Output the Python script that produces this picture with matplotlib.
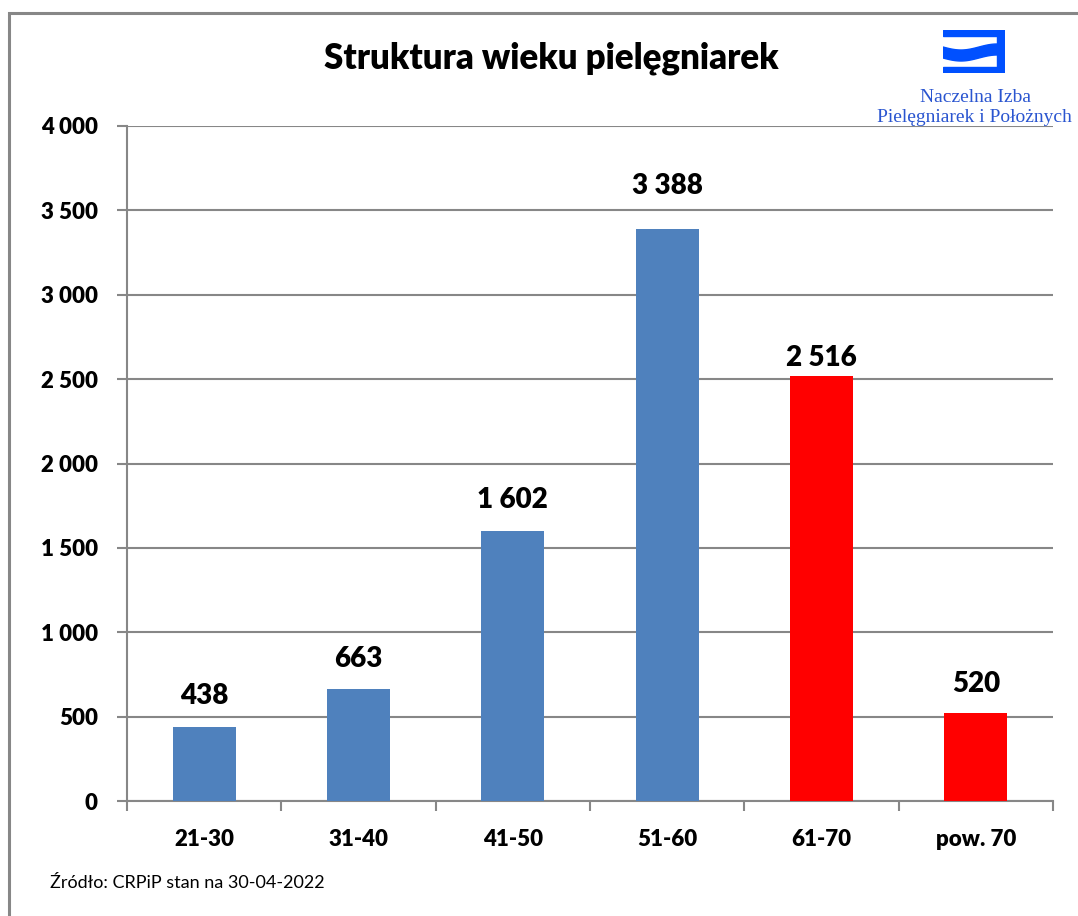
import numpy as np
import matplotlib.pyplot as plt
from matplotlib.patches import Rectangle, Polygon
from matplotlib.ticker import FuncFormatter, MultipleLocator

plt.rcParams['font.family'] = ['Lato', 'DejaVu Sans']

# age groups and number of nurses
groups = ['21-30', '31-40', '41-50', '51-60', '61-70', 'pow. 70']
counts = [438, 663, 1602, 3388, 2516, 520]
colors = ['#4F81BD', '#4F81BD', '#4F81BD', '#4F81BD', '#FF0000', '#FF0000']
# hand-placed label offsets above each bar (points)
label_dy = [13, 12, 13, 22, 4, 12]

W, H = 1078, 916
fig = plt.figure(figsize=(W / 100, H / 100), dpi=100)

def px(x0, y0, x1, y1):
    # pixel box (top-left origin) -> figure fraction rect
    return [x0 / W, 1 - y1 / H, (x1 - x0) / W, (y1 - y0) / H]

# outer chart frame
frame = Rectangle((9 / W, -0.1), 1.2, 1 - 13 / H + 0.1, transform=fig.transFigure,
                  fill=False, edgecolor='#878787', linewidth=2.2)
fig.patches.append(frame)

ax = fig.add_axes(px(127, 126, 1053, 801))
x = np.arange(len(groups))
ax.bar(x, counts, width=0.41, color=colors, zorder=3)
ax.set_xlim(-0.5, len(groups) - 0.5)
ax.set_ylim(0, 4000)

def spaced(v, pos=None):
    return f'{int(v):,}'.replace(',', ' ')

ax.yaxis.set_major_locator(MultipleLocator(500))
ax.yaxis.set_major_formatter(FuncFormatter(spaced))
ax.grid(axis='y', color='#878787', linewidth=1.5, zorder=0)
ax.set_axisbelow(True)

for s in ['top', 'right']:
    ax.spines[s].set_visible(False)
for s in ['left', 'bottom']:
    ax.spines[s].set_color('#878787')
    ax.spines[s].set_linewidth(1.5)

ax.set_xticks(np.arange(-0.5, len(groups)), minor=False)
ax.set_xticklabels([])
ax.set_xticks(x, minor=True)
ax.set_xticklabels(groups, minor=True, fontsize=16, fontweight='heavy')
ax.tick_params(axis='x', which='major', length=7, width=1.5, color='#878787')
ax.tick_params(axis='x', which='minor', length=0, pad=20)
ax.tick_params(axis='y', length=7, width=1.5, color='#878787', labelsize=16, pad=14)
for t in ax.get_yticklabels():
    t.set_fontweight('heavy')

for xi, v, dy in zip(x, counts, label_dy):
    ax.annotate(spaced(v), (xi, v), xytext=(0, dy), textcoords='offset points',
                ha='center', va='bottom', fontsize=20, fontweight='heavy')

fig.text(551 / W, 1 - 58 / H, 'Struktura wieku pielęgniarek', ha='center', va='center',
         fontsize=25, fontweight='heavy')
fig.text(50 / W, 1 - 883 / H, 'Źródło: CRPiP stan na 30-04-2022', ha='left', va='center',
         fontsize=13)

# NIPiP logo
lg = fig.add_axes(px(943, 30, 1005, 73))
lg.set_xlim(0, 62)
lg.set_ylim(43, 0)
lg.axis('off')
blue = '#0050FF'
lg.add_patch(Rectangle((0, 0), 62, 5.5, color=blue))
lg.add_patch(Rectangle((54, 0), 8, 43, color=blue))
lg.add_patch(Rectangle((0, 37), 62, 6, color=blue))
wx = np.linspace(0, 55, 60)
wc = 22.5 + 3 * np.sin(2 * np.pi * wx / 54 * 0.75)
lg.add_patch(Polygon(np.concatenate([np.column_stack([wx, wc - 5.5]),
                                     np.column_stack([wx[::-1], wc[::-1] + 5.5])]),
                     color=blue))
fig.text(975 / W, 1 - 97 / H, 'Naczelna Izba', ha='center', va='center', fontsize=14,
         family='Liberation Serif', color='#2A55D0')
fig.text(974 / W, 1 - 118 / H, 'Pielęgniarek i Położnych', ha='center', va='center',
         fontsize=14, family='Liberation Serif', color='#2A55D0')

fig.savefig('out.png', dpi=100)
